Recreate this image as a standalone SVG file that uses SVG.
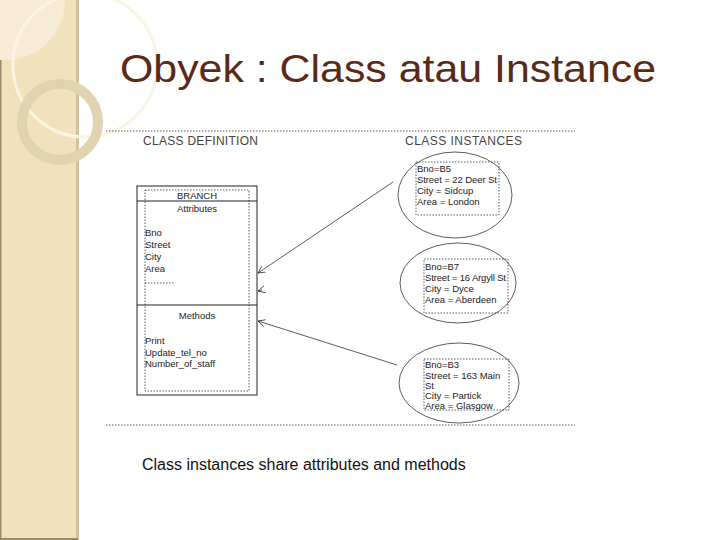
<svg xmlns="http://www.w3.org/2000/svg" width="720" height="540" viewBox="0 0 720 540">
<style>
text{font-family:"Liberation Sans",Arial,sans-serif;fill:#222}
.s{font-size:9.5px}
.h{font-size:12px;fill:#444}
.d{fill:none;stroke:#333;stroke-width:0.8;stroke-dasharray:1.5 1.5}
.e{fill:#fff;stroke:#333;stroke-width:0.8}
.c{stroke:#333;stroke-width:0.8;fill:none}
</style>
<defs><marker id="a" markerWidth="8" markerHeight="8" refX="7" refY="4" orient="auto" markerUnits="userSpaceOnUse"><path d="M0,0.5 L7,4 L0,7.5" fill="none" stroke="#333" stroke-width="0.8"/></marker></defs>
<rect width="720" height="540" fill="#fff"/>
<g id="sidebar">
<rect x="0" y="0" width="78" height="540" fill="#f1e2bd"/>
<rect x="76" y="0" width="3" height="540" fill="#d2c3a0"/>
<rect x="0" y="0" width="1.5" height="540" fill="#9a8a68"/>
<rect x="0" y="538" width="78" height="2" fill="#9a8a68"/>
<path d="M0,0 H65 A60,60 0 0 1 0,60Z" fill="#f6ecd6"/>
<circle cx="85" cy="65" r="72" fill="none" stroke="#fbf4e2" stroke-width="3"/>
<circle cx="60" cy="122" r="38" fill="none" stroke="#e2d3b0" stroke-width="10"/>
</g>
<text x="120" y="82" textLength="536" lengthAdjust="spacingAndGlyphs" style="font-size:38px;fill:#5a2a18">Obyek : Class atau Instance</text>
<line x1="106" y1="131" x2="575" y2="131" class="d"/>
<line x1="106" y1="425" x2="575" y2="425" class="d"/>
<text x="143" y="145" class="h" textLength="115">CLASS DEFINITION</text>
<text x="405" y="145" class="h" textLength="117">CLASS INSTANCES</text>
<g id="branch">
<rect x="137" y="186" width="120" height="209" fill="#fff" stroke="#222" stroke-width="1"/>
<rect x="145" y="190" width="104" height="201" class="d"/>
<line x1="137" y1="201" x2="257" y2="201" stroke="#222"/>
<line x1="137" y1="305" x2="257" y2="305" stroke="#222"/>
<text x="197" y="199" class="s" text-anchor="middle">BRANCH</text>
<text x="197" y="212" class="s" text-anchor="middle">Attributes</text>
<text x="145" y="236" class="s">Bno</text>
<text x="145" y="248" class="s">Street</text>
<text x="145" y="260" class="s">City</text>
<text x="145" y="272" class="s">Area</text>
<line x1="145" y1="283" x2="175" y2="283" class="d"/>
<text x="197" y="319" class="s" text-anchor="middle">Methods</text>
<text x="145" y="344" class="s">Print</text>
<text x="145" y="356" class="s">Update_tel_no</text>
<text x="145" y="367" class="s">Number_of_staff</text>
</g>
<g id="b5">
<ellipse cx="455" cy="195" rx="57" ry="43" class="e"/>
<rect x="416" y="162" width="83" height="53" class="d"/>
<text x="417" y="172" class="s">Bno=B5</text>
<text x="417" y="183" class="s" textLength="80">Street = 22 Deer St</text>
<text x="417" y="194" class="s">City = Sidcup</text>
<text x="417" y="205" class="s">Area = London</text>
</g>
<g id="b7">
<ellipse cx="458" cy="283" rx="58" ry="40" class="e"/>
<rect x="424" y="259" width="84" height="54" class="d"/>
<text x="425" y="270" class="s">Bno=B7</text>
<text x="425" y="281" class="s" textLength="81">Street = 16 Argyll St</text>
<text x="425" y="292" class="s">City = Dyce</text>
<text x="425" y="303" class="s">Area = Aberdeen</text>
</g>
<g id="b3">
<ellipse cx="459" cy="383" rx="60" ry="40" class="e"/>
<rect x="424" y="359" width="85" height="51" class="d"/>
<text x="425" y="368" class="s">Bno=B3</text>
<text x="425" y="379" class="s">Street = 163 Main</text>
<text x="425" y="389" class="s">St</text>
<text x="425" y="399" class="s">City = Partick</text>
<text x="425" y="409" class="s">Area = Glasgow</text>
</g>
<g id="connectors">
<line x1="393" y1="182" x2="258" y2="273" class="c" marker-end="url(#a)"/>
<line x1="262" y1="290" x2="258" y2="291" class="c" marker-end="url(#a)"/>
<line x1="397" y1="365" x2="258" y2="321" class="c" marker-end="url(#a)"/>
</g>
<text x="142" y="470" style="font-size:16px;fill:#111">Class instances share attributes and methods</text>
</svg>
